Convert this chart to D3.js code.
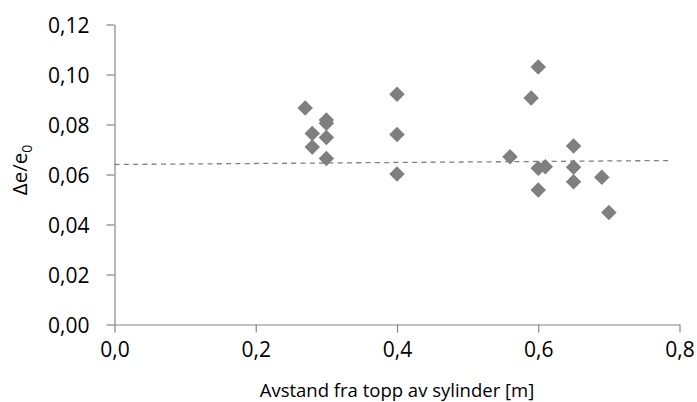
<!DOCTYPE html>
<html>
<head>
<meta charset="utf-8">
<script src="https://cdn.jsdelivr.net/npm/d3@7"></script>
<style>
  html, body { margin: 0; padding: 0; background: #fff; }
  svg { display: block; }
  text { font-family: "Open Sans", Lato, sans-serif; fill: #000; }
</style>
</head>
<body>
<svg id="chart" width="697" height="402"></svg>
<script>
// Distance from top of cylinder [m] and relative change in void ratio
const distance = [0.27, 0.28, 0.28, 0.30, 0.30, 0.30, 0.30,
                  0.40, 0.40, 0.40,
                  0.56, 0.59, 0.60, 0.60, 0.60, 0.61, 0.65, 0.65, 0.65, 0.69, 0.70];
const ratio    = [0.0866, 0.0764, 0.0710, 0.0818, 0.0805, 0.0748, 0.0664,
                  0.0921, 0.0760, 0.0602,
                  0.0671, 0.0906, 0.1030, 0.0625, 0.0538, 0.0631, 0.0714, 0.0629, 0.0571, 0.0589, 0.0448];

// Linear trend line endpoints
const trendX = [0.0, 0.79];
const trendY = [0.0640, 0.0656];

const xTicks = [0, 0.2, 0.4, 0.6, 0.8];
const yTicks = [0, 0.02, 0.04, 0.06, 0.08, 0.10, 0.12];

const svg = d3.select("#chart");
const fmtX = v => d3.format(".1f")(v).replace(".", ",");
const fmtY = v => d3.format(".2f")(v).replace(".", ",");

const x = d3.scaleLinear().domain([0, 0.8]).range([114.5, 679.5]);
const y = d3.scaleLinear().domain([0, 0.12]).range([324.5, 24.5]);

const axisColor = "#868686";

// y axis
const gy = svg.append("g").attr("transform", "translate(114.5,0)")
  .call(d3.axisLeft(y).tickValues(yTicks).tickFormat(fmtY).tickSizeInner(8).tickSizeOuter(0).tickPadding(17));
gy.select(".domain").attr("stroke", axisColor).attr("stroke-width", 1.2);
gy.selectAll(".tick line").attr("stroke", axisColor).attr("stroke-width", 1.2);
gy.selectAll(".tick text").style("font-size", "21px").attr("dy", "0.36em").attr("fill", "#000");

// x axis
const gx = svg.append("g").attr("transform", "translate(0,324.5)")
  .call(d3.axisBottom(x).tickValues(xTicks).tickFormat(fmtX).tickSizeInner(8).tickSizeOuter(0).tickPadding(10));
gx.select(".domain").attr("stroke", axisColor).attr("stroke-width", 1.2);
gx.selectAll(".tick line").attr("stroke", axisColor).attr("stroke-width", 1.2);
gx.selectAll(".tick text").style("font-size", "21px").attr("fill", "#000");

// Trend line
svg.append("line")
  .attr("x1", x(trendX[0])).attr("y1", y(trendY[0]))
  .attr("x2", x(trendX[1])).attr("y2", y(trendY[1]))
  .attr("stroke", "#808080").attr("stroke-width", 1.3)
  .attr("stroke-dasharray", "5,4.3");

// Diamond markers
const diamond = d3.symbol().type(d3.symbolSquare).size(120);
svg.append("g").selectAll("path")
  .data(distance.map((d, i) => [d, ratio[i]]))
  .join("path")
  .attr("d", diamond)
  .attr("transform", d => `translate(${x(d[0])},${y(d[1])}) rotate(45)`)
  .attr("fill", "#7f7f7f");

// Axis titles
svg.append("text")
  .attr("x", x(0.4)).attr("y", 397)
  .attr("text-anchor", "middle")
  .style("font-size", "18.5px")
  .text("Avstand fra topp av sylinder [m]");

const yt = svg.append("text")
  .attr("transform", "translate(27,170) rotate(-90)")
  .attr("text-anchor", "middle")
  .style("font-size", "20.5px");
yt.append("tspan").text("Δe/e");
yt.append("tspan").attr("dy", 5).style("font-size", "14px").text("0");
</script>
</body>
</html>
